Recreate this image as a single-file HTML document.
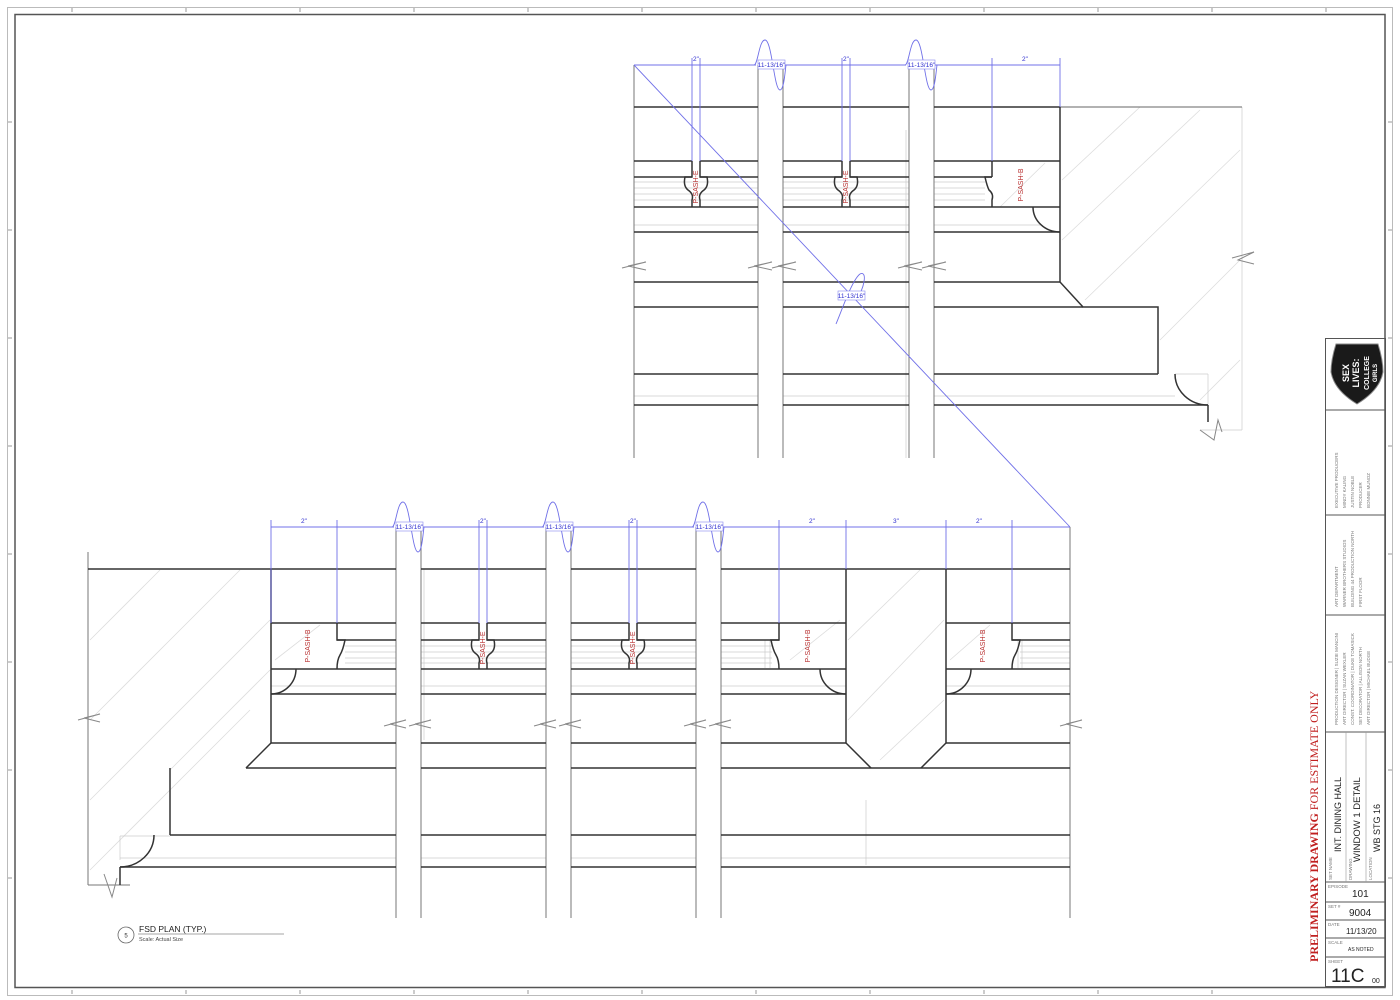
<!DOCTYPE html>
<html><head><meta charset="utf-8"><style>
html,body{margin:0;padding:0;background:#fff;width:1400px;height:1000px;overflow:hidden}
svg{display:block}
text{font-family:"Liberation Sans",sans-serif}
</style></head><body>
<svg width="1400" height="1000" viewBox="0 0 1400 1000" xmlns="http://www.w3.org/2000/svg">
<!-- frames -->
<rect x="7.5" y="7.5" width="1385" height="988" fill="none" stroke="#bbb" stroke-width="1"/>
<rect x="15" y="14.5" width="1370" height="973" fill="none" stroke="#555" stroke-width="1.5"/>
<g stroke="#999" stroke-width="1">
<line x1="72" y1="8" x2="72" y2="12"/><line x1="186" y1="8" x2="186" y2="12"/><line x1="300" y1="8" x2="300" y2="12"/><line x1="414" y1="8" x2="414" y2="12"/><line x1="528" y1="8" x2="528" y2="12"/><line x1="642" y1="8" x2="642" y2="12"/><line x1="756" y1="8" x2="756" y2="12"/><line x1="870" y1="8" x2="870" y2="12"/><line x1="984" y1="8" x2="984" y2="12"/><line x1="1098" y1="8" x2="1098" y2="12"/><line x1="1212" y1="8" x2="1212" y2="12"/><line x1="1326" y1="8" x2="1326" y2="12"/>
<line x1="72" y1="990" x2="72" y2="994"/><line x1="186" y1="990" x2="186" y2="994"/><line x1="300" y1="990" x2="300" y2="994"/><line x1="414" y1="990" x2="414" y2="994"/><line x1="528" y1="990" x2="528" y2="994"/><line x1="642" y1="990" x2="642" y2="994"/><line x1="756" y1="990" x2="756" y2="994"/><line x1="870" y1="990" x2="870" y2="994"/><line x1="984" y1="990" x2="984" y2="994"/><line x1="1098" y1="990" x2="1098" y2="994"/><line x1="1212" y1="990" x2="1212" y2="994"/>
<line x1="8" y1="122" x2="12" y2="122"/><line x1="8" y1="230" x2="12" y2="230"/><line x1="8" y1="338" x2="12" y2="338"/><line x1="8" y1="446" x2="12" y2="446"/><line x1="8" y1="554" x2="12" y2="554"/><line x1="8" y1="662" x2="12" y2="662"/><line x1="8" y1="770" x2="12" y2="770"/><line x1="8" y1="878" x2="12" y2="878"/>
<line x1="1388" y1="122" x2="1392" y2="122"/><line x1="1388" y1="230" x2="1392" y2="230"/><line x1="1388" y1="338" x2="1392" y2="338"/><line x1="1388" y1="446" x2="1392" y2="446"/><line x1="1388" y1="554" x2="1392" y2="554"/><line x1="1388" y1="662" x2="1392" y2="662"/><line x1="1388" y1="770" x2="1392" y2="770"/><line x1="1388" y1="878" x2="1392" y2="878"/>
</g>

<!-- ================= TOP DETAIL ================= -->
<g stroke="#ddd" stroke-width="0.8">
<line x1="1062" y1="180" x2="1140" y2="107"/><line x1="1062" y1="240" x2="1200" y2="110"/><line x1="1085" y1="300" x2="1240" y2="150"/><line x1="1160" y1="340" x2="1240" y2="260"/><line x1="1200" y1="400" x2="1240" y2="360"/><line x1="1000" y1="207" x2="1045" y2="163"/>
</g>
<g stroke="#ccc" stroke-width="0.7">
<line x1="634" y1="182" x2="758" y2="182"/><line x1="634" y1="188" x2="758" y2="188"/><line x1="634" y1="194" x2="758" y2="194"/><line x1="634" y1="200" x2="758" y2="200"/>
<line x1="783" y1="182" x2="909" y2="182"/><line x1="783" y1="188" x2="909" y2="188"/><line x1="783" y1="194" x2="909" y2="194"/><line x1="783" y1="200" x2="909" y2="200"/>
<line x1="934" y1="182" x2="985" y2="182"/><line x1="934" y1="188" x2="985" y2="188"/><line x1="934" y1="194" x2="985" y2="194"/><line x1="934" y1="200" x2="985" y2="200"/>
<line x1="634" y1="225" x2="758" y2="225"/><line x1="783" y1="225" x2="909" y2="225"/><line x1="934" y1="225" x2="1040" y2="225"/>
<line x1="1062" y1="396" x2="1175" y2="396"/><line x1="634" y1="396" x2="758" y2="396"/><line x1="783" y1="396" x2="909" y2="396"/><line x1="934" y1="396" x2="1062" y2="396"/>
<line x1="1175" y1="374" x2="1208" y2="374"/><line x1="1208" y1="374" x2="1208" y2="405"/>
<line x1="1242" y1="107" x2="1242" y2="430"/><line x1="1200" y1="430" x2="1242" y2="430"/>
<line x1="906" y1="130" x2="906" y2="458"/>
</g>
<line x1="1060" y1="107" x2="1242" y2="107" stroke="#666" stroke-width="1"/>
<g stroke="#777" stroke-width="1">
<line x1="634" y1="65" x2="634" y2="458"/>
<line x1="758" y1="65" x2="758" y2="458"/><line x1="783" y1="65" x2="783" y2="458"/>
<line x1="909" y1="65" x2="909" y2="458"/><line x1="934" y1="65" x2="934" y2="458"/>
</g>
<g stroke="#333" stroke-width="1.5" fill="none">
<path d="M634,107H758M783,107H909M934,107H1060"/>
<path d="M634,161H692M700,161H758M783,161H842M850,161H909M934,161H1060"/>
<path d="M634,177H692M700,177H758M783,177H842M850,177H909M934,177H992"/>
<path d="M634,207H758M783,207H909M934,207H1060"/>
<path d="M634,232H758M783,232H909M934,232H1060"/>
<path d="M634,282H758M783,282H909M934,282H1060"/>
<path d="M634,307H758M783,307H909M934,307H1083"/>
<path d="M634,374H758M783,374H909M934,374H1158"/>
<path d="M634,405H758M783,405H909M934,405H1208"/>
<path d="M1060,107V282L1083,307H1158V374"/>
<path d="M992,161V177"/>
<path d="M1208,405V422"/>
<path d="M1033,207A27,25 0 0 0 1060,232"/>
<path d="M1175,374A33,31 0 0 0 1208,405"/>
<path d="M692,161V177L685,177Q683,186 688,190Q694,194 692,200V207"/>
<path d="M700,161V177L707,177Q709,186 704,190Q698,194 700,200V207"/>
<path d="M842,161V177L835,177Q833,186 838,190Q844,194 842,200V207"/>
<path d="M850,161V177L857,177Q859,186 854,190Q848,194 850,200V207"/>
<path d="M992,177L985,177Q987,186 989,190Q994,194 992,200V207"/>
</g>
<g stroke="#888" stroke-width="1" fill="none">
<path d="M622,268L646,262L628,266L646,270"/>
<path d="M748,268L772,262L754,266L772,270"/>
<path d="M772,268L796,262L778,266L796,270"/>
<path d="M898,268L922,262L904,266L922,270"/>
<path d="M922,268L946,262L928,266L946,270"/>
<path d="M1232,258L1254,252L1238,260L1254,264"/>
<path d="M1200,430L1214,440L1218,420L1222,432"/>
</g>
<g stroke="#7070e8" stroke-width="0.9" fill="none">
<path d="M634,65H756"/><path d="M784,65H906"/><path d="M935,65H1060"/>
<path d="M692,58V161M700,58V161M842,58V161M850,58V161M992,58V161M1060,58V107"/>
<path d="M754,65C758,65 759,40 765,40C772,40 774,90 780,90C784,90 785,72 786,65"/>
<path d="M905,65C909,65 910,40 916,40C923,40 925,90 931,90C935,90 936,72 937,65"/>
<path d="M634,65L1070,527"/>
<path d="M836,324C842,310 852,280 860,274C868,270 864,290 856,300"/>
</g>
<g font-size="6.5" fill="#3030d0" text-anchor="middle">
<rect x="758" y="60" width="27" height="9" fill="#fff" stroke="#8888ee" stroke-width="0.6"/><text x="771.5" y="67">11-13/16"</text>
<rect x="908" y="60" width="27" height="9" fill="#fff" stroke="#8888ee" stroke-width="0.6"/><text x="921.5" y="67">11-13/16"</text>
<rect x="838" y="291" width="27" height="9" fill="#fff" stroke="#8888ee" stroke-width="0.6"/><text x="851.5" y="298">11-13/16"</text>
<text x="696" y="61">2"</text><text x="846" y="61">2"</text><text x="1025" y="61">2"</text>
</g>
<g font-size="7" fill="#b83030" text-anchor="middle">
<text transform="translate(698,187) rotate(-90)">P-SASH-E</text>
<text transform="translate(848,187) rotate(-90)">P-SASH-E</text>
<text transform="translate(1023,185) rotate(-90)">P-SASH-B</text>
</g>

<!-- ================= BOTTOM DETAIL ================= -->
<g stroke="#ddd" stroke-width="0.8">
<line x1="90" y1="640" x2="160" y2="570"/><line x1="90" y1="720" x2="240" y2="570"/><line x1="90" y1="800" x2="270" y2="620"/><line x1="90" y1="870" x2="250" y2="710"/><line x1="170" y1="770" x2="270" y2="670"/>
<line x1="848" y1="640" x2="920" y2="570"/><line x1="848" y1="720" x2="944" y2="620"/><line x1="880" y1="760" x2="944" y2="700"/>
<line x1="275" y1="660" x2="320" y2="625"/><line x1="950" y1="660" x2="990" y2="625"/><line x1="790" y1="660" x2="840" y2="620"/>
</g>
<g stroke="#ccc" stroke-width="0.7">
<path d="M345,646H396M345,652H396M345,658H396M345,663H396"/>
<path d="M421,646H546M421,652H546M421,658H546M421,663H546"/>
<path d="M571,646H696M571,652H696M571,658H696M571,663H696"/>
<path d="M721,646H772M721,652H772M721,658H772M721,663H772"/>
<path d="M1020,646H1070M1020,652H1070M1020,658H1070M1020,663H1070"/>
<path d="M271,686H396M421,686H546M571,686H696M721,686H846M946,686H1070"/>
<path d="M120,858H396M421,858H546M571,858H696M721,858H1070"/>
<path d="M120,836H170M120,836V860"/>
<path d="M765,640V668M770,640V668M1018,640V668M1022,640V668"/>
<path d="M424,569V740"/><path d="M866,800V865"/>
</g>
<g stroke="#777" stroke-width="1">
<line x1="396" y1="527" x2="396" y2="918"/><line x1="421" y1="527" x2="421" y2="918"/>
<line x1="546" y1="527" x2="546" y2="918"/><line x1="571" y1="527" x2="571" y2="918"/>
<line x1="696" y1="527" x2="696" y2="918"/><line x1="721" y1="527" x2="721" y2="918"/>
<line x1="1070" y1="527" x2="1070" y2="918"/>
<line x1="88" y1="552" x2="88" y2="885"/><line x1="88" y1="885" x2="130" y2="885"/>
</g>
<g stroke="#333" stroke-width="1.5" fill="none">
<path d="M88,569H396M421,569H546M571,569H696M721,569H1070"/>
<path d="M271,623H396M421,623H479M487,623H546M571,623H629M637,623H696M721,623H846M946,623H1070"/>
<path d="M337,640H396M421,640H479M487,640H546M571,640H629M637,640H696M721,640H779M1012,640H1070"/>
<path d="M271,669H396M421,669H546M571,669H696M721,669H846M946,669H1070"/>
<path d="M271,694H396M421,694H546M571,694H696M721,694H846M946,694H1070"/>
<path d="M271,743H396M421,743H546M571,743H696M721,743H846M946,743H1070"/>
<path d="M246,768H396M421,768H546M571,768H696M721,768H1070"/>
<path d="M170,835H396M421,835H546M571,835H696M721,835H1070"/>
<path d="M120,867H396M421,867H546M571,867H696M721,867H1070"/>
<path d="M271,569V743L246,768M170,768V835M120,867V885"/>
<path d="M846,569V743L871,768M946,569V743L921,768"/>
<path d="M337,623V640L345,640Q343,650 340,655Q337,660 337,669"/>
<path d="M779,623V640L771,640Q773,650 776,655Q779,660 779,669"/>
<path d="M1012,623V640L1020,640Q1018,650 1015,655Q1012,660 1012,669"/>
<path d="M479,623V640L472,640Q470,649 475,653Q481,657 479,663V669"/>
<path d="M487,623V640L494,640Q496,649 491,653Q485,657 487,663V669"/>
<path d="M629,623V640L622,640Q620,649 625,653Q631,657 629,663V669"/>
<path d="M637,623V640L644,640Q646,649 641,653Q635,657 637,663V669"/>
<path d="M296,669A25,25 0 0 1 271,694"/>
<path d="M820,669A26,25 0 0 0 846,694"/>
<path d="M971,669A25,25 0 0 1 946,694"/>
<path d="M154,835A34,32 0 0 1 120,867"/>
</g>
<g stroke="#888" stroke-width="1" fill="none">
<path d="M78,720L100,714L84,718L100,722"/>
<path d="M384,726L406,720L390,724L406,728"/><path d="M409,726L431,720L415,724L431,728"/>
<path d="M534,726L556,720L540,724L556,728"/><path d="M559,726L581,720L565,724L581,728"/>
<path d="M684,726L706,720L690,724L706,728"/><path d="M709,726L731,720L715,724L731,728"/>
<path d="M1060,726L1082,720L1066,724L1082,728"/>
<path d="M104,874L112,897L117,878"/>
</g>
<g stroke="#7070e8" stroke-width="0.9" fill="none">
<path d="M271,527H394M422,527H544M572,527H694M722,527H1070"/>
<path d="M271,520V623M337,520V623M479,520V623M487,520V623M629,520V623M637,520V623M779,520V623M846,520V569M946,520V569M1012,520V623"/>
<path d="M392,527C396,527 397,502 403,502C410,502 412,552 418,552C422,552 423,534 424,527"/>
<path d="M542,527C546,527 547,502 553,502C560,502 562,552 568,552C572,552 573,534 574,527"/>
<path d="M692,527C696,527 697,502 703,502C710,502 712,552 718,552C722,552 723,534 724,527"/>
</g>
<g font-size="6.5" fill="#3030d0" text-anchor="middle">
<rect x="396" y="522" width="27" height="9" fill="#fff" stroke="#8888ee" stroke-width="0.6"/><text x="409.5" y="529">11-13/16"</text>
<rect x="546" y="522" width="27" height="9" fill="#fff" stroke="#8888ee" stroke-width="0.6"/><text x="559.5" y="529">11-13/16"</text>
<rect x="696" y="522" width="27" height="9" fill="#fff" stroke="#8888ee" stroke-width="0.6"/><text x="709.5" y="529">11-13/16"</text>
<text x="304" y="523">2"</text><text x="483" y="523">2"</text><text x="633" y="523">2"</text><text x="812" y="523">2"</text><text x="896" y="523">3"</text><text x="979" y="523">2"</text>
</g>
<g font-size="7" fill="#b83030" text-anchor="middle">
<text transform="translate(310,646) rotate(-90)">P-SASH-B</text>
<text transform="translate(485,648) rotate(-90)">P-SASH-E</text>
<text transform="translate(635,648) rotate(-90)">P-SASH-E</text>
<text transform="translate(810,646) rotate(-90)">P-SASH-B</text>
<text transform="translate(985,646) rotate(-90)">P-SASH-B</text>
</g>
<circle cx="126" cy="935" r="8" fill="none" stroke="#666" stroke-width="0.8"/>
<text x="126" y="937.5" font-size="6" text-anchor="middle" fill="#333">5</text>
<text x="139" y="932" font-size="8.5" fill="#222">FSD PLAN (TYP.)</text>
<line x1="138" y1="934" x2="284" y2="934" stroke="#888" stroke-width="0.8"/>
<text x="139" y="941" font-size="5.5" fill="#444">Scale: Actual Size</text>

<!-- ================= TITLE BLOCK ================= -->
<g stroke="#555" stroke-width="1" fill="none">
<rect x="1325.5" y="338.5" width="60" height="648"/>
<line x1="1326" y1="410" x2="1385" y2="410"/>
<line x1="1326" y1="515" x2="1385" y2="515"/>
<line x1="1326" y1="615" x2="1385" y2="615"/>
<line x1="1326" y1="732" x2="1385" y2="732"/>
<line x1="1326" y1="882" x2="1385" y2="882"/>
<line x1="1326" y1="902" x2="1385" y2="902"/>
<line x1="1326" y1="920" x2="1385" y2="920"/>
<line x1="1326" y1="938" x2="1385" y2="938"/>
<line x1="1326" y1="957" x2="1385" y2="957"/>
<line x1="1346" y1="732" x2="1346" y2="882" stroke="#999" stroke-width="0.6"/>
<line x1="1366" y1="732" x2="1366" y2="882" stroke="#999" stroke-width="0.6"/>
</g>
<path d="M1336,344H1378Q1383,360 1383,372Q1380,390 1357,404Q1334,390 1331,372Q1331,360 1336,344Z" fill="#1a1a1a" stroke="#888" stroke-width="1"/>
<g fill="#fff" font-weight="bold" text-anchor="middle">
<text transform="translate(1349,373) rotate(-90)" font-size="9">SEX</text>
<text transform="translate(1359,373) rotate(-90)" font-size="9">LIVES:</text>
<text transform="translate(1369,373) rotate(-90)" font-size="7">COLLEGE</text>
<text transform="translate(1377,373) rotate(-90)" font-size="6">GIRLS</text>
</g>
<g font-size="4.5" fill="#777">
<text transform="translate(1338,508) rotate(-90)">EXECUTIVE PRODUCERS</text>
<text transform="translate(1346,508) rotate(-90)">MINDY KALING</text>
<text transform="translate(1354,508) rotate(-90)">JUSTIN NOBLE</text>
<text transform="translate(1362,508) rotate(-90)">PRODUCER</text>
<text transform="translate(1370,508) rotate(-90)">BONNIE MUNOZ</text>
<text transform="translate(1338,607) rotate(-90)">ART DEPARTMENT</text>
<text transform="translate(1346,607) rotate(-90)">WARNER BROTHERS STUDIOS</text>
<text transform="translate(1354,607) rotate(-90)">BUILDING 44 PRODUCTION NORTH</text>
<text transform="translate(1362,607) rotate(-90)">FIRST FLOOR</text>
<text transform="translate(1338,725) rotate(-90)">PRODUCTION DESIGNER | SUZIE MANCINI</text>
<text transform="translate(1346,725) rotate(-90)">ART DIRECTOR | SUZAN WEXLER</text>
<text transform="translate(1354,725) rotate(-90)">CONST. COORDINATOR | DUKE TOMASICK</text>
<text transform="translate(1362,725) rotate(-90)">SET DECORATOR | ALLISON NORTH</text>
<text transform="translate(1370,725) rotate(-90)">ART DIRECTOR | MICHAEL BUDGE</text>
<text transform="translate(1332,880) rotate(-90)">SET NAME</text>
<text transform="translate(1352,880) rotate(-90)">DRAWING</text>
<text transform="translate(1372,880) rotate(-90)">LOCATION</text>
<text x="1328" y="888">EPISODE</text>
<text x="1328" y="908">SET #</text>
<text x="1328" y="926">DATE</text>
<text x="1328" y="944">SCALE</text>
<text x="1328" y="963">SHEET</text>
</g>
<g fill="#222">
<text transform="translate(1341,852) rotate(-90)" font-size="9">INT. DINING HALL</text>
<text transform="translate(1360,862) rotate(-90)" font-size="9.5">WINDOW 1 DETAIL</text>
<text transform="translate(1380,852) rotate(-90)" font-size="9">WB STG 16</text>
<text x="1352" y="897" font-size="10">101</text>
<text x="1349" y="916" font-size="10">9004</text>
<text x="1346" y="934" font-size="8">11/13/20</text>
<text x="1348" y="951" font-size="5">AS NOTED</text>
<text x="1331" y="982" font-size="19">11C</text>
<text x="1372" y="983" font-size="7">00</text>
</g>
<text transform="translate(1318,962) rotate(-90)" font-size="12" font-weight="bold" fill="#c02020" style="font-family:'Liberation Serif',serif">PRELIMINARY DRAWING <tspan font-weight="normal">FOR ESTIMATE ONLY</tspan></text>
</svg>
</body></html>
